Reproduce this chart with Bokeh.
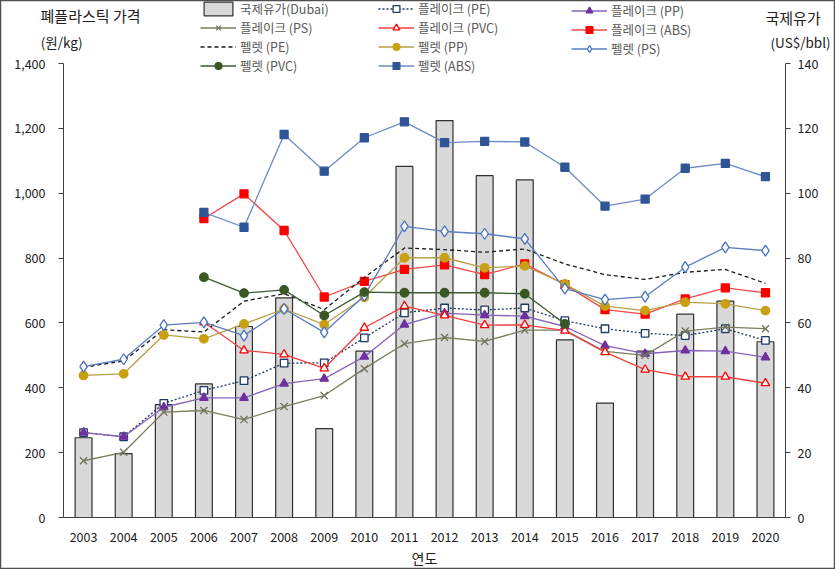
import math
from bokeh.plotting import figure
from bokeh.models import (ColumnDataSource, Range1d, LinearAxis, FixedTicker, NumeralTickFormatter,
                          Legend, LegendItem)
from bokeh.embed import file_html
from bokeh.resources import INLINE

years = [str(y) for y in range(2003, 2021)]

oil_dubai = [24.6, 19.7, 34.8, 41.2, 58.9, 67.7, 27.4, 51.3, 108.3, 122.4, 105.4, 104.1, 54.8, 35.3, 51.3, 62.7, 66.7, 54.2]

flake_pe = [262, 249, 352, 392, 422, 476, 477, 554, 631, 646, 640, 646, 607, 582, 568, 561, 582, 546]
flake_pp = [262, 249, 340, 369, 369, 413, 428, 496, 595, 630, 624, 621, 589, 530, 505, 515, 513, 494]
flake_ps = [175, 201, 325, 330, 302, 342, 376, 459, 536, 555, 543, 578, 578, 512, 500, 575, 587, 582]
flake_pvc = [None, None, None, 602, 515, 503, 460, 585, 652, 623, 593, 594, 576, 510, 456, 434, 434, 414]
flake_abs = [None, None, None, 922, 998, 885, 680, 728, 765, 779, 749, 782, 718, 641, 627, 674, 708, 693]
pellet_pe = [463, 483, 579, 572, 667, 690, 641, 740, 831, 826, 818, 828, 782, 749, 734, 756, 765, 722]
pellet_pp = [438, 443, 563, 551, 597, 643, 595, 679, 801, 801, 770, 776, 720, 652, 638, 664, 659, 638]
pellet_ps = [465, 488, 593, 602, 561, 643, 571, 684, 898, 882, 875, 859, 706, 672, 681, 772, 833, 823]
pellet_pvc = [None, None, None, 741, 692, 702, 623, 695, 693, 693, 693, 690, 597, None, None, None, None, None]
pellet_abs = [None, None, None, 941, 895, 1181, 1068, 1171, 1220, 1156, 1160, 1158, 1080, 960, 982, 1077, 1092, 1051]

left_ticks = list(range(0, 1401, 200))
right_ticks = list(range(0, 141, 20))

def clean(v):
    return [float('nan') if a is None else a for a in v]

FONT = "Noto Sans CJK KR"
W, H = 835, 569
# plot-area box inside the picture (px): left, right, top, bottom
PL, PR, PT, PB = 63, 785, 63, 517
n = len(years)
slot = (PR - PL) / n
ppu = (PB - PT) / 1400.0

x0 = 0.5 - PL / slot
x1 = n + 0.5 + (W - PR) / slot
y1 = 1400 + PT / ppu
y0 = -(H - PB) / ppu

xs = list(range(1, n + 1))         # slot index of each year

p = figure(x_range=Range1d(x0, x1), y_range=Range1d(y0, y1),
           width=W, height=H, output_backend="svg", toolbar_location=None,
           min_border_left=0, min_border_right=0, min_border_top=0, min_border_bottom=0)
p.outline_line_color = "#505050"
p.outline_line_width = 1.5
p.xgrid.visible = False
p.ygrid.visible = False
p.background_fill_color = "white"
p.border_fill_color = "white"

p.extra_y_ranges = {"oil": Range1d(y0 / 10, y1 / 10), "py": Range1d(0, H)}
p.extra_x_ranges = {"px": Range1d(0, W)}

ya = p.yaxis[0]
ya.fixed_location = 0.5
ya.ticker = FixedTicker(ticks=left_ticks)
ya.bounds = (0, 1400)
ya.formatter = NumeralTickFormatter(format="0,0")
ya.axis_line_color = "#404040"
ya.major_tick_line_color = "#404040"
ya.major_tick_out = 5
ya.major_tick_in = 0
ya.minor_tick_line_color = None
ya.major_label_standoff = 13
ya.major_label_text_font = FONT
ya.major_label_text_font_size = "12.5px"
ya.major_label_text_color = "#202020"

ra = LinearAxis(y_range_name="oil", ticker=FixedTicker(ticks=right_ticks), bounds=(0, 140),
                fixed_location=n + 0.5)
ra.axis_line_color = "#404040"
ra.major_tick_line_color = "#404040"
ra.major_tick_out = 5
ra.major_tick_in = 0
ra.minor_tick_line_color = None
ra.major_label_standoff = 7
ra.major_label_text_font = FONT
ra.major_label_text_font_size = "12.5px"
ra.major_label_text_color = "#202020"
p.add_layout(ra, "right")

xa = p.xaxis[0]
xa.fixed_location = 0
xa.bounds = (0.5, n + 0.5)
xa.ticker = FixedTicker(ticks=xs)
xa.major_label_overrides = {x: y for x, y in zip(xs, years)}
xa.axis_line_color = "#404040"
xa.major_tick_line_color = None
xa.major_tick_out = 0
xa.major_tick_in = 0
xa.minor_tick_line_color = None
xa.major_label_standoff = 14
xa.major_label_text_font = FONT
xa.major_label_text_font_size = "12.5px"
xa.major_label_text_color = "#202020"
xa.axis_label = "연도"
xa.axis_label_standoff = 3
xa.axis_label_text_font = FONT
xa.axis_label_text_font_size = "14px"
xa.axis_label_text_font_style = "normal"
xa.axis_label_text_color = "#202020"

src = ColumnDataSource(dict(
    x=xs, oil=oil_dubai,
    fpe=clean(flake_pe), fpp=clean(flake_pp), fps=clean(flake_ps), fpvc=clean(flake_pvc), fabs=clean(flake_abs),
    ppe=clean(pellet_pe), ppp=clean(pellet_pp), pps=clean(pellet_ps), ppvc=clean(pellet_pvc), pabs=clean(pellet_abs)))

bars = p.vbar(x="x", top="oil", width=0.42, source=src, y_range_name="oil",
              fill_color="#D9D9D9", line_color="#303030", line_width=1.2)

def series(col, line_color, dash="solid", marker=None, mcolor=None, mfill=None, size=8, lw=1.3):
    r = [p.line("x", col, source=src, line_color=line_color, line_width=lw, line_dash=dash)]
    if marker:
        r.append(p.scatter("x", col, source=src, marker=marker, size=size,
                           line_color=mcolor, fill_color=mfill, line_width=1.3))
    return r

r_fpe = series("fpe", "#1F3864", "2 2", "square", "#1F3864", "white", 7.5)
r_fpp = series("fpp", "#8563B8", "solid", "triangle", "#7030A0", "#7030A0", 8.5)
r_fps = series("fps", "#7B7D5E", "solid", "x", "#6E7058", None, 10)
r_fpvc = series("fpvc", "#F04040", "solid", "triangle", "#FF0000", "white", 8.5)
r_fabs = series("fabs", "#F04848", "solid", "square", "#FF0000", "#FF0000", 8)
r_ppe = series("ppe", "#1A1A1A", "4 3", None)
r_ppp = series("ppp", "#B8A048", "solid", "circle", "#C8A010", "#C8A010", 8.5)
r_pps = series("pps", "#5A7EC0", "solid", "diamond", "#4A72C4", "white", 11)
r_ppvc = series("ppvc", "#3E5A33", "solid", "circle", "#385723", "#385723", 8.5)
r_pabs = series("pabs", "#6A8BC6", "solid", "square", "#2F5597", "#2F5597", 8)

def make_legend(items, left, top):
    h = 17 * len(items)
    lg = Legend(items=items, location=(left, H - top - h), orientation="vertical",
                padding=0, margin=0, spacing=0, label_height=17, glyph_height=17, glyph_width=36,
                label_standoff=4, label_text_font=FONT, label_text_font_size="12.5px",
                label_text_color="#595959", background_fill_alpha=0, border_line_color=None)
    p.add_layout(lg, "center")

make_legend([LegendItem(label="국제유가(Dubai)", renderers=[bars]),
             LegendItem(label="플레이크 (PS)", renderers=r_fps),
             LegendItem(label="펠렛 (PE)", renderers=r_ppe),
             LegendItem(label="펠렛 (PVC)", renderers=r_ppvc)], 200, 7)
make_legend([LegendItem(label="플레이크 (PE)", renderers=r_fpe),
             LegendItem(label="플레이크 (PVC)", renderers=r_fpvc),
             LegendItem(label="펠렛 (PP)", renderers=r_ppp),
             LegendItem(label="펠렛 (ABS)", renderers=r_pabs)], 378, 7)
make_legend([LegendItem(label="플레이크 (PP)", renderers=r_fpp),
             LegendItem(label="플레이크 (ABS)", renderers=r_fabs),
             LegendItem(label="펠렛 (PS)", renderers=r_pps)], 571, 7)

# axis-unit captions, drawn as tick labels of zero-size fixed axes
def caption(text, xpos, ypos, angle, size):
    ax = LinearAxis(x_range_name="px", y_range_name="py", fixed_location=ypos,
                    ticker=FixedTicker(ticks=[xpos]), major_label_overrides={xpos: text},
                    major_label_orientation=angle, axis_line_color=None,
                    major_tick_line_color=None, minor_tick_line_color=None,
                    major_tick_out=0, major_tick_in=0, major_label_standoff=0,
                    major_label_text_font=FONT, major_label_text_font_size=size,
                    major_label_text_color="#202020")
    p.add_layout(ax, "above")

caption("폐플라스틱 가격", 140, H - 15, -0.0001, "15px")
caption("(원/kg)", 82, H - 42, -0.0001, "13.5px")
caption("국제유가", 765, H - 17, 0.0001, "15px")
caption("(US$/bbl)", 770, H - 42, 0.0001, "13.5px")

open("out.html", "w").write(file_html(p, INLINE))
